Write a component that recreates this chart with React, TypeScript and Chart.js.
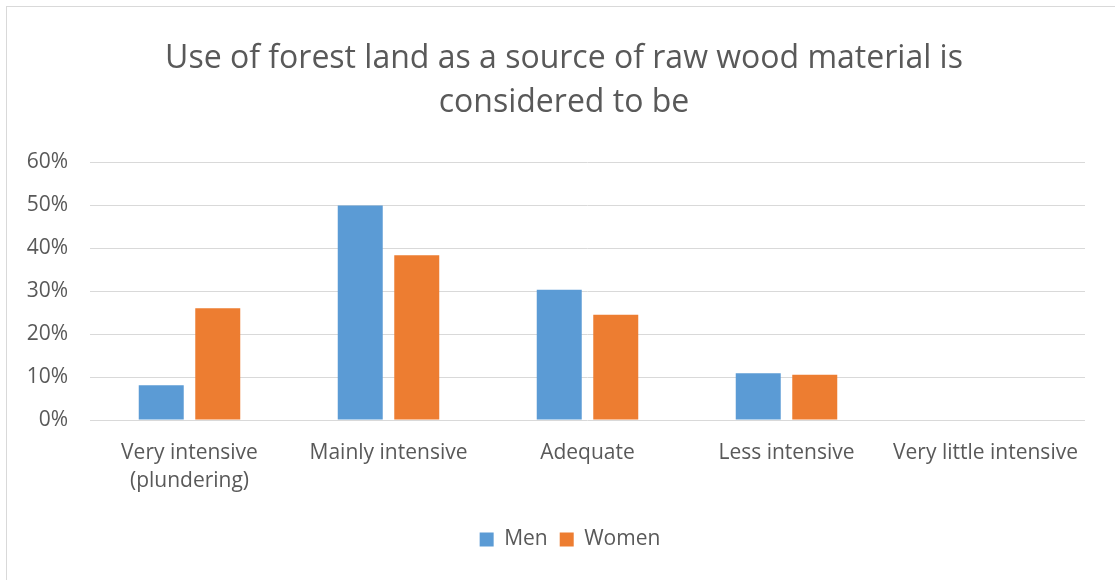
import React, { useEffect, useRef } from "react";
import { Chart, registerables } from "chart.js";

Chart.register(...registerables);

const titleLines = ["Use of forest land as a source of raw wood material is", "considered to be"];
const categories: (string | string[])[] = [
  ["Very intensive", "(plundering)"],
  "Mainly intensive",
  "Adequate",
  "Less intensive",
  "Very little intensive",
];
const menValues = [8.1, 49.9, 30.3, 10.9, 0];
const womenValues = [26.0, 38.3, 24.5, 10.5, 0];
const yTicks = [0, 10, 20, 30, 40, 50, 60];

const FONT = "'Open Sans', Lato, sans-serif";
const TEXT = "#595959";

const recenter = {
  id: "recenter",
  afterLayout(chart: any) {
    const t = chart.titleBlock;
    if (t) {
      t.left = 43;
      t.right = 1085;
      t.width = t.right - t.left;
    }
    const l = chart.legend;
    if (l) {
      l.left = 55;
      l.right = 1085;
      l.width = l.right - l.left;
    }
  },
};

export default function App() {
  const ref = useRef<HTMLCanvasElement | null>(null);
  useEffect(() => {
    if (!ref.current) return;
    const chart = new Chart(ref.current, {
      type: "bar",
      data: {
        labels: categories,
        datasets: [
          {
            label: "Men",
            data: menValues,
            backgroundColor: "#5B9BD5",
            categoryPercentage: 0.568,
            barPercentage: 0.796,
          },
          {
            label: "Women",
            data: womenValues,
            backgroundColor: "#ED7D31",
            categoryPercentage: 0.568,
            barPercentage: 0.796,
          },
        ],
      },
      plugins: [recenter],
      options: {
        animation: false,
        responsive: false,
        maintainAspectRatio: false,
        layout: { padding: { left: 0, right: 30, top: 0, bottom: 20 } },
        plugins: {
          tooltip: { enabled: false },
          title: {
            display: true,
            text: titleLines,
            color: TEXT,
            font: { family: FONT, size: 32, weight: "normal" as any, lineHeight: 1.375 },
            padding: { top: 37, bottom: 37 },
          },
          legend: {
            position: "bottom",
            labels: {
              color: TEXT,
              font: { family: FONT, size: 21 },
              boxWidth: 14,
              boxHeight: 14,
              padding: 12,
            },
          },
        },
        scales: {
          x: {
            grid: { display: false, drawTicks: false },
            border: { display: false },
            ticks: {
              color: TEXT,
              font: { family: FONT, size: 21, lineHeight: 1.33 },
              padding: 19,
              maxRotation: 0,
              autoSkip: false,
            },
            afterFit: (s: any) => {
              s.height = 97;
            },
          },
          y: {
            min: 0,
            max: 60,
            afterBuildTicks: (s: any) => {
              s.ticks = yTicks.map((v) => ({ value: v }));
            },
            grid: { color: "#d9d9d9", lineWidth: 1, drawTicks: false },
            border: { display: false },
            ticks: {
              color: TEXT,
              font: { family: FONT, size: 21 },
              padding: 22,
              callback: (v: any) => v + "%",
            },
            afterFit: (s: any) => {
              s.width = 90;
            },
          },
        },
      },
    });
    return () => chart.destroy();
  }, []);

  return (
    <div style={{ position: "fixed", left: 0, top: 0, width: 1115, height: 580, background: "#fff" }}>
      <div
        style={{
          position: "absolute",
          left: 6,
          top: 6,
          right: 0,
          bottom: 0,
          borderLeft: "1.5px solid #d9d9d9",
          borderTop: "1.5px solid #d9d9d9",
        }}
      />
      <canvas ref={ref} width={1115} height={580} style={{ position: "absolute", left: 0, top: 0 }} />
    </div>
  );
}
